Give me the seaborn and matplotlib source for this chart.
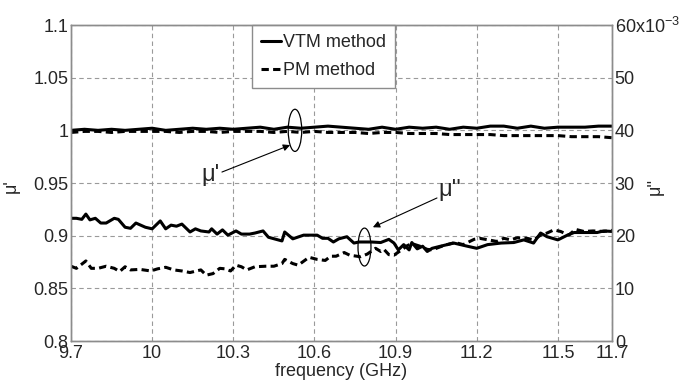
import matplotlib
matplotlib.use("Agg")
import matplotlib.pyplot as plt
from matplotlib.patches import Ellipse
import seaborn as sns
import pandas as pd

# ---------------- data ----------------
f_mu1 = [9.70, 9.75, 9.80, 9.85, 9.90, 9.95, 10.00, 10.05, 10.10, 10.15, 10.20,
         10.25, 10.30, 10.35, 10.40, 10.45, 10.50, 10.55, 10.60, 10.65, 10.70,
         10.75, 10.80, 10.85, 10.90, 10.95, 11.00, 11.05, 11.10, 11.15, 11.20,
         11.25, 11.30, 11.35, 11.40, 11.45, 11.50, 11.55, 11.60, 11.65, 11.70]
mu1_vtm = [1.000, 1.001, 1.000, 1.001, 1.000, 1.001, 1.002, 1.000, 1.001, 1.002, 1.001,
           1.002, 1.001, 1.002, 1.003, 1.001, 1.003, 1.002, 1.003, 1.004, 1.003,
           1.002, 1.001, 1.003, 1.001, 1.003, 1.002, 1.003, 1.001, 1.003, 1.002,
           1.004, 1.004, 1.002, 1.004, 1.002, 1.003, 1.003, 1.003, 1.004, 1.004]
mu1_pm = [0.998, 0.999, 0.999, 0.998, 0.999, 0.999, 0.999, 0.999, 0.998, 0.999, 0.999,
          0.998, 0.999, 0.999, 0.999, 0.998, 0.999, 0.998, 0.999, 0.998, 0.998,
          0.998, 0.997, 0.998, 0.998, 0.997, 0.997, 0.997, 0.996, 0.996, 0.996,
          0.996, 0.995, 0.995, 0.995, 0.995, 0.995, 0.994, 0.994, 0.994, 0.993]

f_mu2_vtm = [9.70, 9.72, 9.74, 9.755, 9.77, 9.79, 9.81, 9.83, 9.86, 9.875, 9.90, 9.92,
             9.94, 9.975, 10.00, 10.03, 10.05, 10.07, 10.09, 10.11, 10.14, 10.16, 10.18,
             10.21, 10.22, 10.24, 10.26, 10.28, 10.31, 10.33, 10.36, 10.38, 10.41, 10.43,
             10.48, 10.49, 10.52, 10.56, 10.61, 10.63, 10.65, 10.67, 10.69, 10.72, 10.746,
             10.765, 10.81, 10.845, 10.875, 10.894, 10.91, 10.93, 10.95, 10.96, 10.98,
             11.00, 11.017, 11.035, 11.066, 11.115, 11.165, 11.20, 11.24, 11.29, 11.337,
             11.374, 11.41, 11.436, 11.46, 11.50, 11.535, 11.56, 11.596, 11.645, 11.67, 11.70]
mu2_vtm = [23.3, 23.3, 23.1, 24.1, 23.0, 23.3, 22.4, 22.4, 23.3, 23.1, 21.6, 21.4,
           22.4, 21.6, 21.3, 22.8, 21.3, 22.0, 21.8, 22.2, 20.7, 21.3, 20.9,
           20.7, 21.3, 20.3, 21.1, 20.1, 20.9, 20.3, 20.3, 20.5, 20.9, 19.7,
           19.0, 20.7, 19.4, 20.1, 20.1, 19.5, 19.5, 18.8, 19.4, 19.8, 18.6,
           18.8, 18.8, 18.7, 19.3, 18.6, 17.3, 18.3, 17.3, 18.7, 17.5,
           18.0, 17.0, 17.6, 18.0, 18.6, 18.0, 17.6, 18.3, 18.6, 18.7,
           19.2, 18.6, 20.5, 19.8, 19.2, 20.1, 20.6, 20.6, 20.6, 20.9, 20.8]

f_mu2_pm = [9.70, 9.72, 9.755, 9.775, 9.80, 9.83, 9.86, 9.88, 9.90, 9.92, 9.955, 9.995,
            10.02, 10.05, 10.08, 10.11, 10.14, 10.18, 10.20, 10.225, 10.25, 10.27, 10.29,
            10.31, 10.33, 10.35, 10.38, 10.42, 10.45, 10.48, 10.49, 10.52, 10.54, 10.58,
            10.61, 10.64, 10.66, 10.68, 10.71, 10.73, 10.77, 10.795, 10.826, 10.845,
            10.857, 10.875, 10.894, 10.925, 10.943, 10.96, 10.99, 11.017, 11.035, 11.066,
            11.09, 11.12, 11.15, 11.19, 11.21, 11.244, 11.274, 11.30, 11.325, 11.35,
            11.386, 11.41, 11.436, 11.46, 11.485, 11.51, 11.54, 11.565, 11.596, 11.63,
            11.67, 11.70]
mu2_pm = [14.2, 13.8, 15.2, 13.8, 13.8, 14.2, 13.8, 13.2, 14.1, 13.5, 13.6, 13.3,
          13.7, 14.0, 13.5, 13.3, 13.0, 13.5, 12.5, 12.8, 13.8, 13.7, 13.3,
          14.4, 14.1, 13.5, 14.1, 14.2, 14.2, 14.7, 15.5, 14.7, 14.4, 15.9,
          15.5, 15.3, 16.1, 16.1, 16.8, 16.3, 16.0, 16.5, 17.6, 17.0,
          17.4, 16.4, 16.3, 17.4, 18.1, 18.5, 18.0, 17.4, 17.3, 17.9,
          18.3, 18.7, 18.3, 19.3, 19.5, 19.2, 18.9, 19.5, 19.2, 19.6,
          19.5, 19.2, 20.1, 20.5, 21.1, 20.8, 20.1, 21.2, 20.8, 20.9,
          20.8, 21.0]

x_ticks = [9.7, 10.0, 10.3, 10.6, 10.9, 11.2, 11.5, 11.7]
x_ticklabels = ["9.7", "10", "10.3", "10.6", "10.9", "11.2", "11.5", "11.7"]
yl_ticks = [0.8, 0.85, 0.9, 0.95, 1.0, 1.05, 1.1]
yl_ticklabels = ["0.8", "0.85", "0.9", "0.95", "1", "1.05", "1.1"]
yr_ticks = [0, 10, 20, 30, 40, 50, 60]
yr_ticklabels = ["0", "10", "20", "30", "40", "50", "60x10$^{-3}$"]

# ---------------- style ----------------
sns.set_style("white")
plt.rcParams["font.family"] = ["Liberation Sans", "DejaVu Sans"]
plt.rcParams["mathtext.default"] = "regular"
GRAY = "#8c8c8c"
FS = 13

fig = plt.figure(figsize=(6.8, 3.8), dpi=100)
ax = fig.add_axes([0.1044, 0.1026, 0.7956, 0.8316])
ax2 = ax.twinx()

df1v = pd.DataFrame({"f": f_mu1, "v": mu1_vtm})
df1p = pd.DataFrame({"f": f_mu1, "v": mu1_pm})
df2v = pd.DataFrame({"f": f_mu2_vtm, "v": [v / 1000 for v in mu2_vtm]})
df2p = pd.DataFrame({"f": f_mu2_pm, "v": [v / 1000 for v in mu2_pm]})

sns.lineplot(data=df1v, x="f", y="v", ax=ax, color="black", lw=2.2,
             label="VTM method", estimator=None)
sns.lineplot(data=df1p, x="f", y="v", ax=ax, color="black", lw=2.2,
             label="PM method", estimator=None)
sns.lineplot(data=df2v, x="f", y="v", ax=ax2, color="black", lw=2.2,
             estimator=None, legend=False)
sns.lineplot(data=df2p, x="f", y="v", ax=ax2, color="black", lw=2.2,
             estimator=None, legend=False)
ax.lines[1].set_dashes([2.4, 1.4])
ax2.lines[1].set_dashes([2.4, 1.4])

ax.set_xlim(9.7, 11.7)
ax.set_ylim(0.8, 1.1)
ax2.set_ylim(0, 0.06)

ax.set_xticks(x_ticks)
ax.set_xticklabels(x_ticklabels, fontsize=FS)
ax.set_yticks(yl_ticks)
ax.set_yticklabels(yl_ticklabels, fontsize=FS)
ax2.set_yticks([v / 1000 for v in yr_ticks])
ax2.set_yticklabels(yr_ticklabels, fontsize=FS)

for a in (ax, ax2):
    a.tick_params(axis="both", length=0, pad=2)
    for s in a.spines.values():
        s.set_color(GRAY)
        s.set_linewidth(1.0)
ax.tick_params(axis="x", pad=3)
ax2.grid(False)
ax.grid(True, color="#9a9a9a", linestyle=(0, (4, 3)), linewidth=0.8)
ax.set_axisbelow(True)

ax.set_xlabel("frequency (GHz)", fontsize=FS)
ax.xaxis.set_label_coords(0.5, -0.07)
ax.set_ylabel("μ'", fontsize=FS)
ax.yaxis.set_label_coords(-0.095, 0.49)
ax2.set_ylabel("μ''", fontsize=FS)
ax2.yaxis.set_label_coords(1.065, 0.49)

leg = ax.legend(loc="upper left", bbox_to_anchor=(0.335, 1.0), borderaxespad=0,
                fontsize=FS, frameon=True, fancybox=False, handlelength=1.1,
                handletextpad=0.12, borderpad=0.5, labelspacing=0.6)
leg.get_frame().set_edgecolor(GRAY)
leg.get_frame().set_linewidth(1.0)
leg.get_frame().set_alpha(1)
leg.set_zorder(10)

# annotations
ax.add_patch(Ellipse((10.528, 1.0), 0.05, 0.040, fill=False, ec="black", lw=0.9, zorder=5))
ax.add_patch(Ellipse((10.785, 0.8892), 0.048, 0.036, fill=False, ec="black", lw=0.9, zorder=5))
ax.annotate("", xy=(10.51, 0.986), xytext=(10.258, 0.9604),
            arrowprops=dict(arrowstyle="-|>", lw=0.8, color="black", mutation_scale=10,
                            shrinkA=0, shrinkB=0))
ax.annotate("", xy=(10.816, 0.908), xytext=(11.053, 0.9358),
            arrowprops=dict(arrowstyle="-|>", lw=0.8, color="black", mutation_scale=10,
                            shrinkA=0, shrinkB=0))
ax.text(10.214, 0.9576, "μ'", fontsize=17, ha="center", va="center")
ax.text(11.101, 0.9434, "μ''", fontsize=17, ha="center", va="center")

fig.savefig("out.png", dpi=100)
